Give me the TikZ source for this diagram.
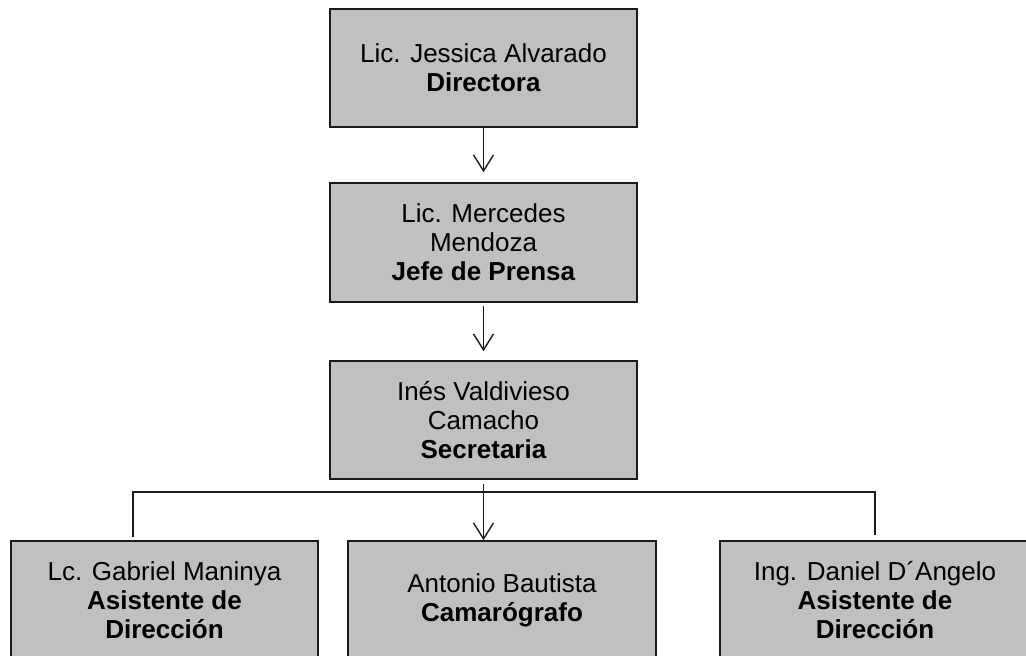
\documentclass[tikz,border=0pt]{standalone}
\usepackage{fontspec}
\setmainfont{Liberation Sans}
\definecolor{boxgray}{HTML}{C0C0C0}
\definecolor{linegray}{HTML}{1A1A1A}
\usetikzlibrary{arrows.meta,positioning,calc}

\begin{document}
\begin{tikzpicture}[
  x=1pt, y=-1pt,
  person/.style={draw=linegray, fill=boxgray, line width=1.6pt, align=center,
    font=\fontsize{26}{29}\selectfont, minimum width=307pt, minimum height=118pt,
    inner sep=0pt},
  link/.style={draw=linegray, line width=1.4pt},
  arr/.style={link, -{Straight Barb[length=16pt, width=20pt, line width=1.4pt]}}
]
  \useasboundingbox[fill=white] (0,0) rectangle (1026,656);

  % top of the chart
  \node[person] (dir) at (483.5,68) {Lic. Jessica Alvarado\\\textbf{Directora}};
  \node[person, minimum height=119pt] (jefe) at (483.5,242.5) {Lic. Mercedes\\Mendoza\\\textbf{Jefe de Prensa}};
  \node[person] (secre) at (483.5,420) {Inés Valdivieso\\Camacho\\\textbf{Secretaria}};

  % bottom row
  \node[person] (asis1) at (164.5,600) {Lc. Gabriel Maninya\\\textbf{Asistente de}\\\textbf{Dirección}};
  \node[person, minimum width=308pt] (camara) at (502,600) {Antonio Bautista\\\textbf{Camarógrafo}};
  \node[person, minimum width=310pt] (asis2) at (875,600) {Ing. Daniel D´Angelo\\\textbf{Asistente de}\\\textbf{Dirección}};

  % arrows down the chain
  \draw[arr, shorten >=10pt] (dir.south) -- (jefe.north);
  \draw[arr, shorten <=3pt, shorten >=9pt] (jefe.south) -- (secre.north);
  \draw[arr, shorten <=4pt] (secre.south) -- (secre.south |- camara.north);

  % branch line
  \coordinate (bus) at (483.5,492);
  \draw[link] ([xshift=-31.5pt, yshift=3pt]asis1.north) |- (bus) -| ([yshift=5pt]asis2.north);
\end{tikzpicture}
\end{document}
